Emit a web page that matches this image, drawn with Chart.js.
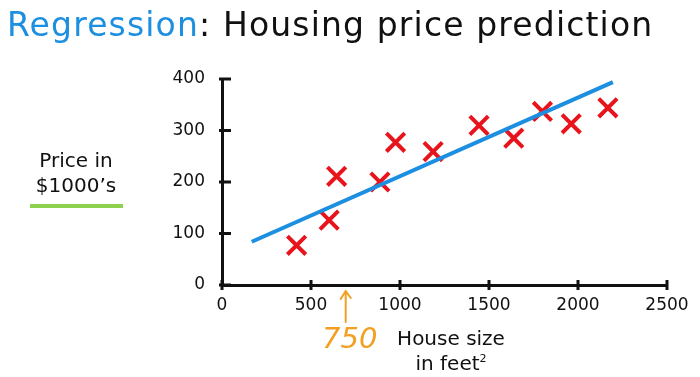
<!DOCTYPE html>
<html>
<head>
<meta charset="utf-8">
<script src="https://cdn.jsdelivr.net/npm/chart.js@4.4.1/dist/chart.umd.min.js"></script>
<style>
  html, body { margin: 0; padding: 0; background: #fff; }
  #wrap { position: relative; width: 700px; height: 377px; overflow: hidden; }
  canvas { position: absolute; left: 0; top: 0; }
  .txt { position: absolute; font-family: "DejaVu Sans", Verdana, sans-serif; white-space: nowrap; }
  #title { left: 7px; top: 8px; font-size: 33px; line-height: 33px; letter-spacing: 1.15px; color: #111; }
  #title span { color: #1d8fe1; }
  #ylab { left: 26px; top: 148px; width: 100px; text-align: center; font-size: 20px; line-height: 25px; color: #111; }
  #ylab .bar { margin: 6px auto 0; width: 93px; height: 4px; background: #8cd24e; }
  #xlab { left: 391px; top: 326px; width: 120px; text-align: center; font-size: 20px; line-height: 25px; color: #111; }
  #xlab sup { font-size: 11px; vertical-align: 8px; line-height: 0; }
  #note { left: 322px; top: 322px; font-size: 29px; line-height: 33px; font-weight: 200; font-style: italic; color: #f2a024; }
</style>
</head>
<body>
<div id="wrap">
  <canvas id="chart" width="700" height="377"></canvas>
  <div class="txt" id="title"><span>Regression</span>: Housing price prediction</div>
  <div class="txt" id="ylab">Price in<br>$1000’s<div class="bar"></div></div>
  <div class="txt" id="xlab">House size<br>in feet<sup>2</sup></div>
  <div class="txt" id="note">750</div>
</div>
<script>
// house size (feet^2) and price ($1000's)
const sizes  = [419, 602, 644, 887, 975, 1186, 1444, 1639, 1800, 1962, 2168];
const prices = [ 77, 126, 211, 200, 277,  259,  310,  285,  337,  313,  344];

// ends of the fitted line
const fitX = [167, 2196];
const fitY = [84, 394];

// axis ticks
const xTicks = [0, 500, 1000, 1500, 2000, 2500];
const yTicks = [0, 100, 200, 300, 400];

// where the hand drawn arrow points
const arrowX = 695;

const points = sizes.map((s, i) => ({ x: s, y: prices[i] }));
const fitLine = fitX.map((x, i) => ({ x: x, y: fitY[i] }));

// ticks that cross the axis lines, plus the orange arrow
const extras = {
  id: 'extras',
  afterDatasetsDraw(chart) {
    const ctx = chart.ctx;
    const xs = chart.scales.x, ys = chart.scales.y;
    const a = chart.chartArea;
    ctx.save();
    ctx.strokeStyle = '#111';
    ctx.lineWidth = 3;
    xs.ticks.forEach(t => {
      const px = xs.getPixelForValue(t.value);
      ctx.beginPath();
      ctx.moveTo(px, a.bottom - 5);
      ctx.lineTo(px, a.bottom + 5);
      ctx.stroke();
    });
    ys.ticks.forEach(t => {
      const py = ys.getPixelForValue(t.value);
      ctx.beginPath();
      ctx.moveTo(a.left - 3, py);
      ctx.lineTo(a.left + 9, py);
      ctx.stroke();
    });
    // arrow
    const ax = xs.getPixelForValue(arrowX);
    ctx.strokeStyle = '#f2a024';
    ctx.lineWidth = 2;
    ctx.lineCap = 'round';
    ctx.beginPath();
    ctx.moveTo(ax, a.bottom + 37);
    ctx.lineTo(ax, a.bottom + 6);
    ctx.moveTo(ax - 5, a.bottom + 14);
    ctx.lineTo(ax, a.bottom + 6);
    ctx.lineTo(ax + 5, a.bottom + 13);
    ctx.stroke();
    ctx.restore();
  }
};

const tickFont = { family: 'DejaVu Sans', size: 17 };

new Chart(document.getElementById('chart'), {
  type: 'scatter',
  data: {
    datasets: [{
      type: 'line',
      data: fitLine,
      borderColor: '#1d8fe1',
      borderWidth: 4,
      pointRadius: 0,
      order: 0
    }, {
      data: points,
      pointStyle: 'crossRot',
      pointRadius: 13,
      pointBorderWidth: 4,
      borderColor: '#e8141c',
      backgroundColor: '#e8141c',
      order: 1
    }]
  },
  options: {
    responsive: false,
    animation: false,
    layout: { padding: { left: 0, right: 33, top: 79, bottom: 0 } },
    plugins: { legend: { display: false }, tooltip: { enabled: false } },
    scales: {
      x: {
        type: 'linear',
        min: 0, max: 2500,
        afterBuildTicks: s => { s.ticks = xTicks.map(v => ({ value: v })); },
        afterFit: s => { s.height = 92; },
        grid: { display: true, drawOnChartArea: false, drawTicks: false },
        border: { color: '#111', width: 3 },
        ticks: { padding: 10, color: '#111', font: tickFont, callback: v => String(v) }
      },
      y: {
        min: 0, max: 400,
        afterBuildTicks: s => { s.ticks = yTicks.map(v => ({ value: v })); },
        afterFit: s => { s.width = 222; },
        grid: { display: true, drawOnChartArea: false, drawTicks: false },
        border: { color: '#111', width: 3 },
        ticks: { padding: 17, color: '#111', font: tickFont, callback: v => String(v) }
      }
    }
  },
  plugins: [extras]
});
</script>
</body>
</html>
